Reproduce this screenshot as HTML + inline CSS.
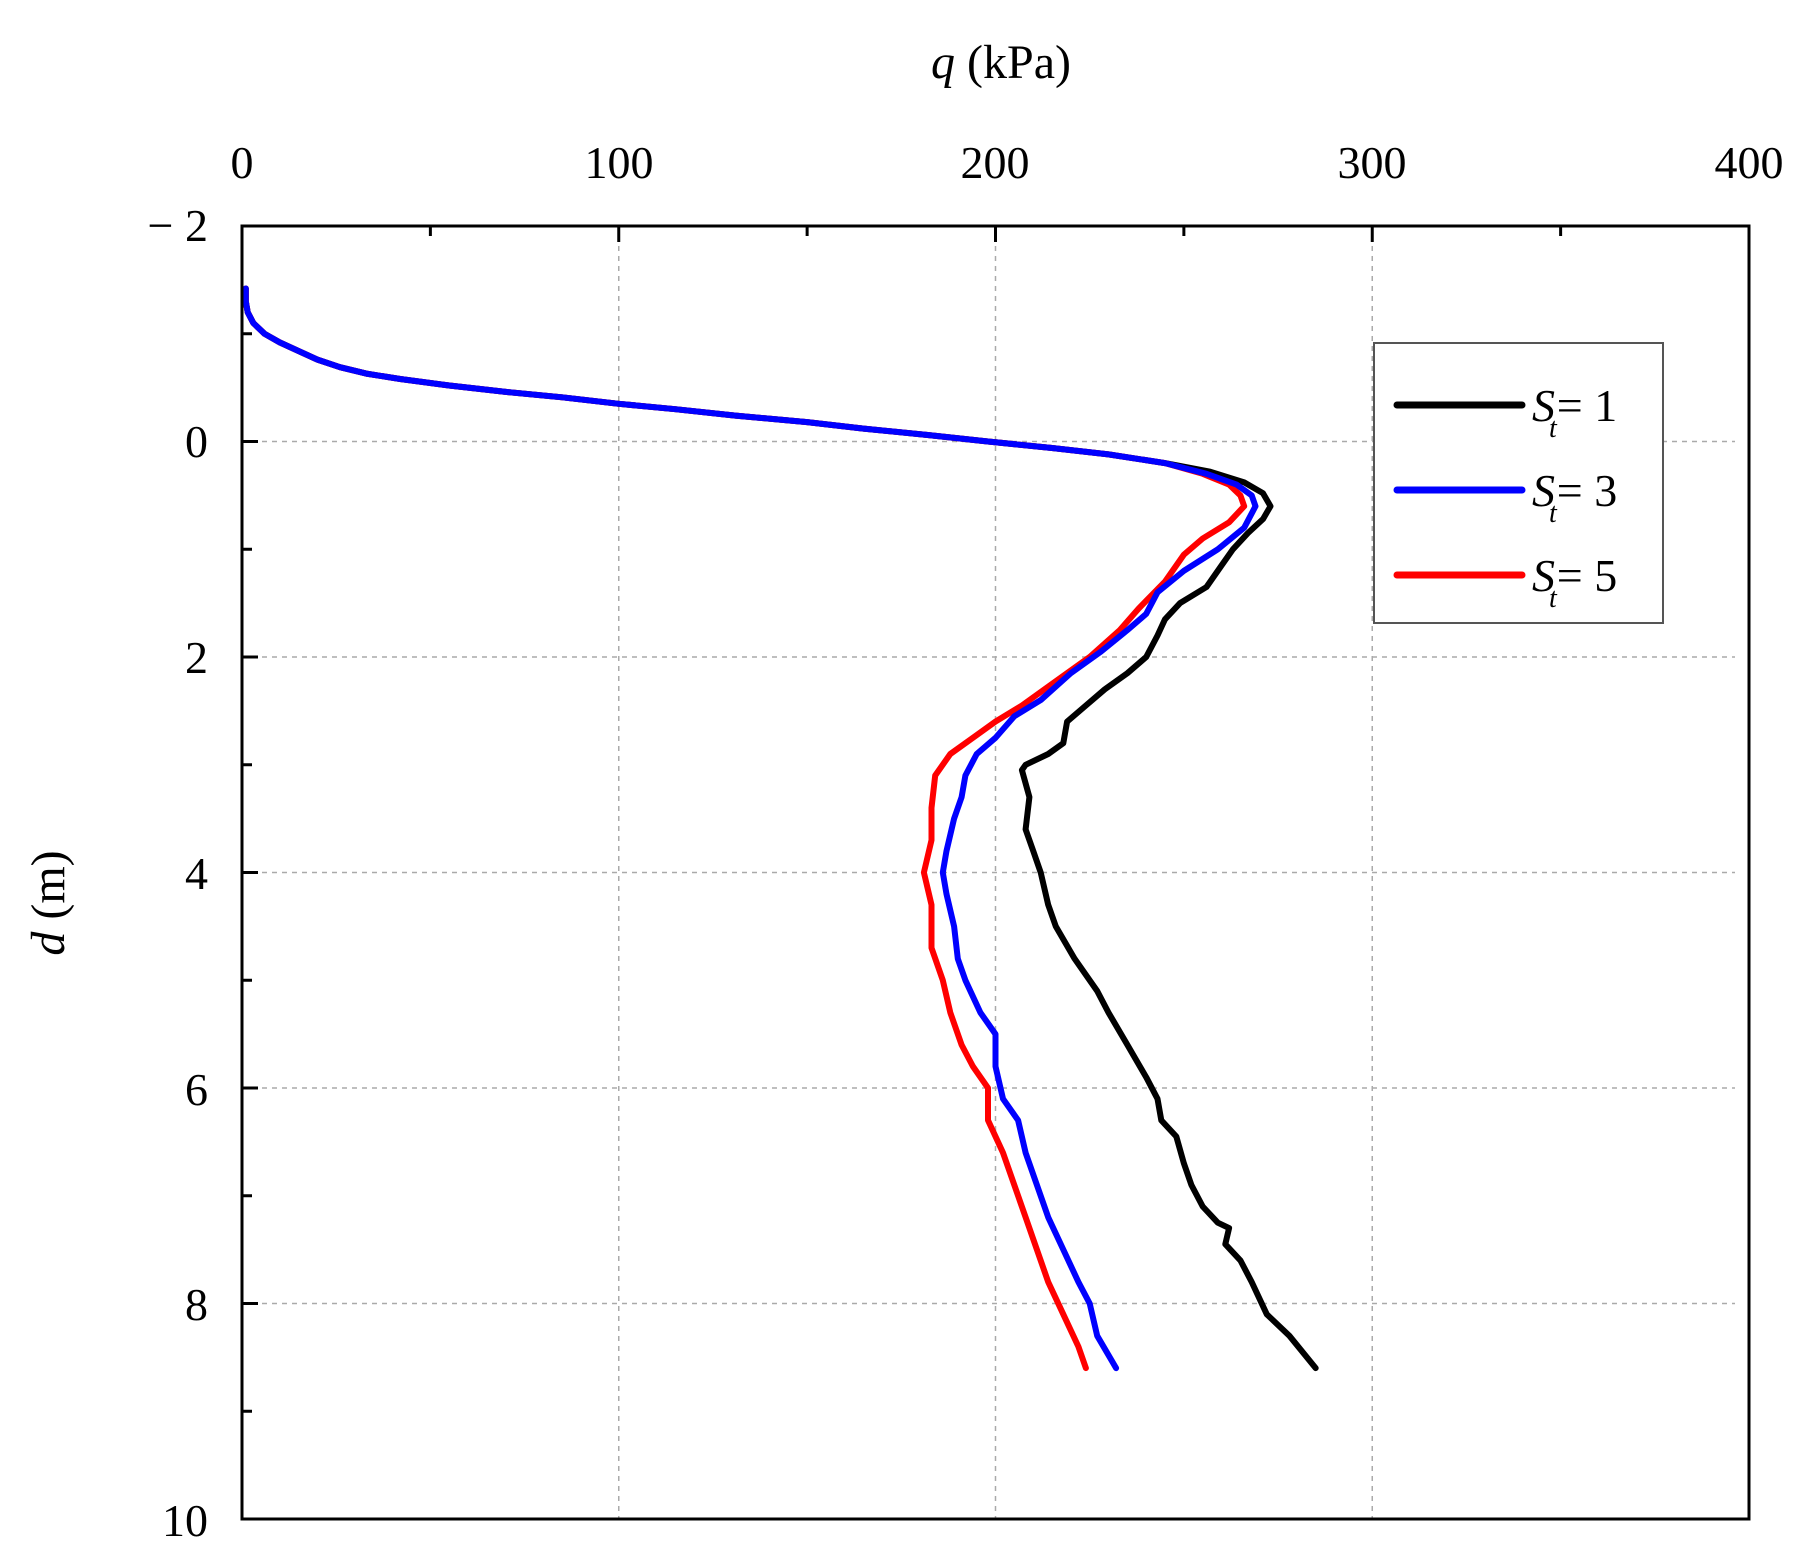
<!DOCTYPE html>
<html><head><meta charset="utf-8"><style>
html,body{margin:0;padding:0;background:#fff;}
svg{display:block;}
text{font-family:"Liberation Serif",serif;fill:#000;}
</style></head><body>
<svg id="s" width="1804" height="1564" viewBox="0 0 1804 1564" xmlns="http://www.w3.org/2000/svg">
<g id="grid" stroke="#aaa" stroke-width="1.5" stroke-dasharray="5,5" fill="none"></g>
<g id="curves" fill="none" stroke-width="6" stroke-linejoin="round" stroke-linecap="round"></g>
<rect x="242" y="226" width="1507" height="1293" fill="none" stroke="#000" stroke-width="3"/>
<g id="ticks" stroke="#000" stroke-width="3"></g>
<g font-size="46" text-anchor="middle">
<text x="242" y="178">0</text><text x="619" y="178">100</text><text x="995" y="178">200</text><text x="1372" y="178">300</text><text x="1749" y="178">400</text>
</g>
<g font-size="46" text-anchor="end">
<text x="208" y="241">− 2</text><text x="208" y="457">0</text><text x="208" y="673">2</text><text x="208" y="889">4</text><text x="208" y="1105">6</text><text x="208" y="1320">8</text><text x="208" y="1536">10</text>
</g>
<text x="1001" y="78" font-size="48" text-anchor="middle"><tspan font-style="italic">q</tspan> (kPa)</text>
<text transform="translate(64,903) rotate(-90)" font-size="48" text-anchor="middle"><tspan font-style="italic">d</tspan> (m)</text>
<rect x="1374" y="343" width="289" height="280" fill="#fff" stroke="#555" stroke-width="2"/>
<g stroke-width="7" stroke-linecap="round">
<line x1="1397" y1="405" x2="1522" y2="405" stroke="#000"/>
<line x1="1397" y1="490" x2="1522" y2="490" stroke="#0000ff"/>
<line x1="1397" y1="575" x2="1522" y2="575" stroke="#ff0000"/>
</g>
<g font-size="46">
<text x="1532" y="421"><tspan font-style="italic">S</tspan><tspan font-style="italic" font-size="28" dx="-6" dy="16">t</tspan><tspan dy="-16">= 1</tspan></text>
<text x="1532" y="506"><tspan font-style="italic">S</tspan><tspan font-style="italic" font-size="28" dx="-6" dy="16">t</tspan><tspan dy="-16">= 3</tspan></text>
<text x="1532" y="591"><tspan font-style="italic">S</tspan><tspan font-style="italic" font-size="28" dx="-6" dy="16">t</tspan><tspan dy="-16">= 5</tspan></text>
</g>
</svg>
<script>
var NS="http://www.w3.org/2000/svg";
function X(q){return 242+q*3.7675;}
function Y(d){return 226+(d+2)*107.75;}
function el(p,t,a){var e=document.createElementNS(NS,t);for(var k in a)e.setAttribute(k,a[k]);document.getElementById(p).appendChild(e);}
[100,200,300].forEach(function(q){el("grid","line",{x1:X(q),y1:226,x2:X(q),y2:1519});});
[0,2,4,6,8].forEach(function(d){el("grid","line",{x1:242,y1:Y(d),x2:1735,y2:Y(d)});});
for(var q=50;q<400;q+=50){var L=(q%100==0)?16:10;el("ticks","line",{x1:X(q),y1:226,x2:X(q),y2:226+L});}
for(var d=-1;d<10;d++){var L=(d%2==0)?16:10;el("ticks","line",{x1:242,y1:Y(d),x2:242+L,y2:Y(d)});}
var head=[[1,-1.42],[1,-1.3],[1.5,-1.2],[3,-1.1],[6,-1.0],[10,-0.92],[15,-0.84],[20,-0.76],[26,-0.69],[33,-0.63],[42,-0.58],[55,-0.52],[70,-0.46],[85,-0.41],[100,-0.35],[115,-0.3],[131,-0.24],[150,-0.18],[165,-0.12],[182,-0.06],[198,0],[215,0.06],[230,0.12],[245,0.2]];
var black=head.concat([[257,0.28],[266,0.38],[271,0.48],[273,0.6],[271,0.72],[267,0.85],[263,1.0],[260,1.15],[256,1.35],[249,1.5],[245,1.65],[243,1.8],[240,2.0],[235,2.15],[229,2.3],[224,2.45],[219,2.6],[218,2.8],[214,2.9],[208,3.0],[207,3.05],[209,3.3],[208,3.6],[210,3.8],[212,4.0],[214,4.3],[216,4.5],[221,4.8],[227,5.1],[230,5.3],[235,5.6],[240,5.9],[243,6.1],[244,6.3],[248,6.45],[250,6.7],[252,6.9],[255,7.1],[259,7.25],[262,7.3],[261,7.45],[265,7.6],[268,7.8],[272,8.1],[278,8.3],[285,8.6]]);
var blue=head.concat([[256,0.3],[264,0.4],[268,0.5],[269,0.6],[266,0.8],[259,1.0],[250,1.2],[243,1.4],[240,1.6],[235,1.75],[228,1.95],[220,2.15],[212,2.4],[205,2.55],[200,2.75],[195,2.9],[192,3.1],[191,3.3],[189,3.5],[187,3.8],[186,4.0],[187,4.2],[189,4.5],[190,4.8],[192,5.0],[196,5.3],[200,5.5],[200,5.8],[202,6.1],[206,6.3],[208,6.6],[211,6.9],[214,7.2],[218,7.5],[222,7.8],[225,8.0],[227,8.3],[232,8.6]]);
var red=head.concat([[255,0.3],[262,0.4],[265,0.5],[266,0.6],[262,0.75],[255,0.9],[250,1.05],[245,1.3],[238,1.55],[233,1.75],[225,2.0],[215,2.25],[207,2.45],[200,2.6],[194,2.75],[188,2.9],[184,3.1],[183,3.4],[183,3.7],[181,4.0],[183,4.3],[183,4.7],[186,5.0],[188,5.3],[191,5.6],[194,5.8],[198,6.0],[198,6.3],[202,6.6],[205,6.9],[208,7.2],[211,7.5],[214,7.8],[218,8.1],[222,8.4],[224,8.6]]);
[[black,"#000"],[red,"#ff0000"],[blue,"#0000ff"]].forEach(function(s){
 el("curves","polyline",{points:s[0].map(function(p){return X(p[0]).toFixed(1)+","+Y(p[1]).toFixed(1);}).join(" "),stroke:s[1]});
});
</script>
</body></html>
